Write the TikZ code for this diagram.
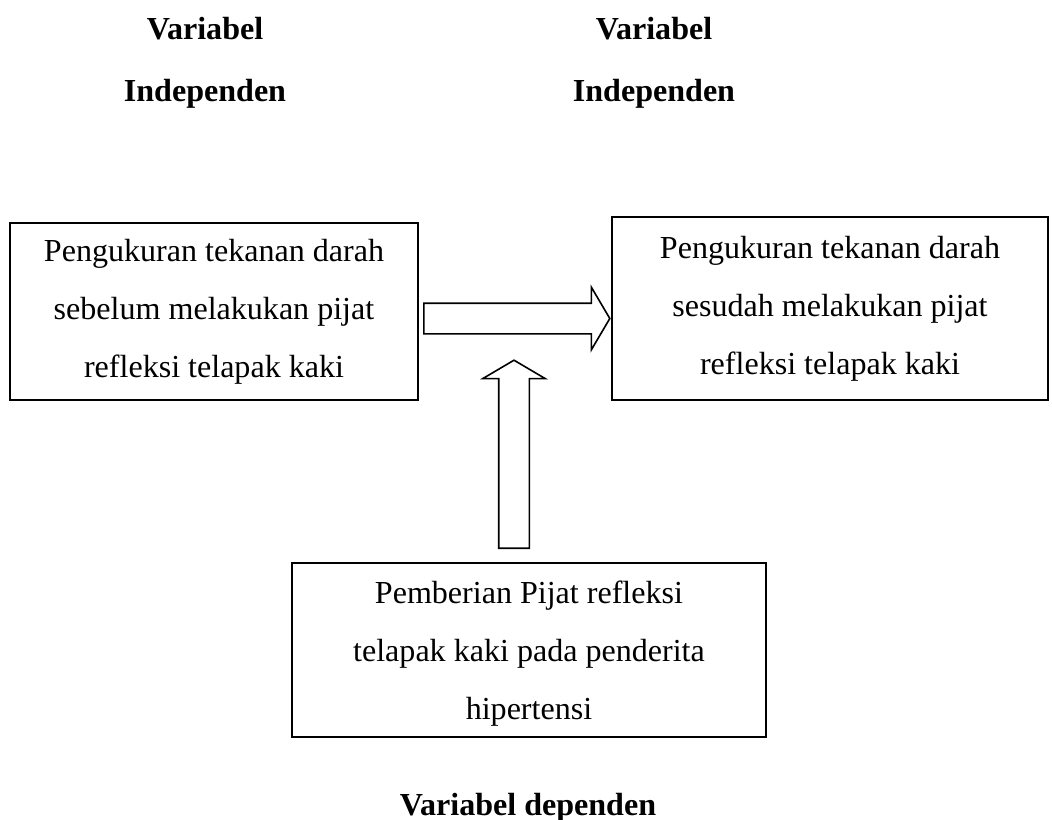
\documentclass[tikz,border=0pt]{standalone}
\usepackage{fontspec}
\setmainfont{Liberation Serif}
\usetikzlibrary{positioning,shapes.arrows}
\newcommand{\pxu}{0.01316cm}

\begin{document}
\begin{tikzpicture}[
  x=\pxu, y=-\pxu,
  varbox/.style={draw, line width=0.6pt, align=center, inner sep=0pt,
    font=\fontsize{12}{21.7}\selectfont, minimum width=#1},
  title/.style={align=center, font=\fontsize{12}{23}\selectfont\bfseries},
  blockarr/.style={single arrow, draw, line width=0.6pt, fill=white,
    inner sep=14.5*\pxu,
    minimum height=186*\pxu, minimum width=61*\pxu,
    single arrow head extend=16*\pxu, single arrow tip angle=119},
]
  \useasboundingbox (0,0) rectangle (1052,820);

  \node[title] (indepa) at (205,63) {Variabel\\Independen};
  \node[title] (indepb) at (654,63) {Variabel\\Independen};

  \node[varbox=408*\pxu, minimum height=177*\pxu] (before) at (214,311.5)
    {Pengukuran tekanan darah\\sebelum melakukan pijat\\refleksi telapak kaki};
  \node[varbox=436*\pxu, minimum height=183*\pxu] (after) at (830,308.5)
    {Pengukuran tekanan darah\\sesudah melakukan pijat\\refleksi telapak kaki};
  \node[varbox=474*\pxu, minimum height=174*\pxu, text depth=0pt] (pijat) at (529,650)
    {Pemberian Pijat refleksi\\telapak kaki pada penderita\\hipertensi};

  \node[title] (dep) at (528,808) {Variabel dependen};

  \node[blockarr, anchor=tail] (harrow) at (423,318.5) {};
  \node[blockarr, anchor=tail, shape border rotate=90, minimum height=188*\pxu] (varrow) at (514,549) {};
\end{tikzpicture}
\end{document}
